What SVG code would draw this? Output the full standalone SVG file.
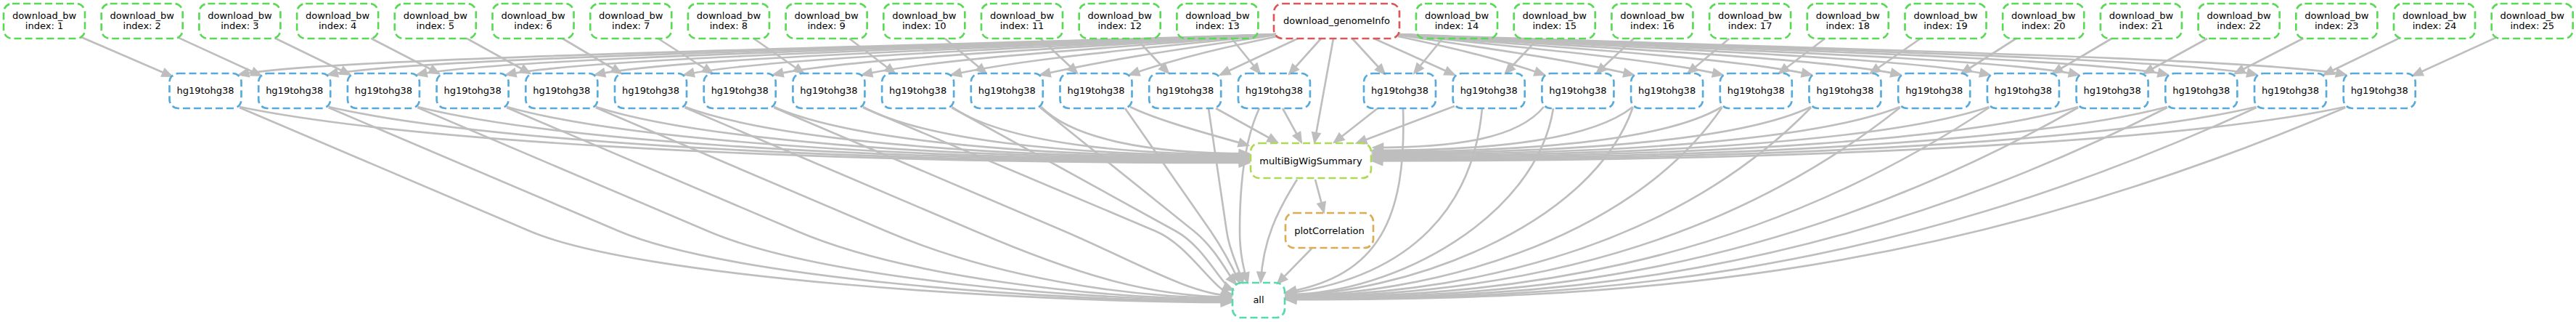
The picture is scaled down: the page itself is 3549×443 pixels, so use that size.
<svg xmlns="http://www.w3.org/2000/svg" width="3549" height="443" viewBox="0 0 3549 443">
<defs>
<style>
.n rect { fill: none; stroke-width: 2.67; stroke-dasharray: 10,5; }
.bw rect { stroke: #5ad957; }
.gi rect { stroke: #d95757; }
.hg rect { stroke: #57aad9; }
.mb rect { stroke: #afd957; }
.pc rect { stroke: #d9ad57; }
.al rect { stroke: #57d9aa; }
text { font-family: "DejaVu Sans", "Liberation Sans", sans-serif; font-size: 13px; fill: #000; text-anchor: middle; }
#edges path { fill: none; stroke: #bebebe; stroke-width: 2.67; marker-end: url(#ah); }
</style>
<marker id="ah" viewBox="-2 -2 20 18" refX="14" refY="7" markerWidth="20" markerHeight="18" markerUnits="userSpaceOnUse" orient="auto">
<path d="M1,2 L13,7 L1,12 Z" fill="#bebebe" stroke="#bebebe" stroke-width="2.67"/>
</marker>
</defs>
<rect x="0" y="0" width="3549" height="443" fill="#ffffff"/>
<g id="edges">
<!-- download_bw -> hg19tohg38 -->
<path d="M110.5,50.4 L237,105.1"/>
<path d="M244.7,51.4 L359.7,104"/>
<path d="M378.4,52.2 L482.4,102.7"/>
<path d="M511.1,52.7 L605.1,101.3"/>
<path d="M643.3,53 L730.3,101"/>
<path d="M775,53 L856,101"/>
<path d="M906.7,53 L981.7,101"/>
<path d="M1038.4,53 L1107.4,101"/>
<path d="M1170.1,53 L1233.1,101"/>
<path d="M1301.8,53 L1358.8,101"/>
<path d="M1433.5,53 L1484.5,101"/>
<path d="M1565.2,53 L1610.2,101"/>
<path d="M1696.9,53 L1735.9,101"/>
<path d="M1987.4,53 L1948.1,101"/>
<path d="M2119.1,53 L2073.8,101"/>
<path d="M2250.8,53 L2199.5,101"/>
<path d="M2382.5,53 L2325.2,101"/>
<path d="M2514.2,53 L2450.9,101"/>
<path d="M2645.9,53 L2576.6,101"/>
<path d="M2777.6,53 L2702.3,101"/>
<path d="M2909.3,53 L2828,101"/>
<path d="M3041,53 L2953.7,101"/>
<path d="M3173.3,52.7 L3078.8,101.3"/>
<path d="M3306,52.2 L3201.5,102.7"/>
<path d="M3439.7,51.4 L3324.2,104"/>
<!-- download_genomeInfo -> hg19tohg38 -->
<path d="M1758,47 C1329.3,63 439,78 329,103"/>
<path d="M1758,47 C1366.1,63 561.7,78 451.7,103"/>
<path d="M1758,47 C1402.9,63 684.4,78 574.4,103"/>
<path d="M1758,47 C1439.7,63 807.1,78 697.1,103"/>
<path d="M1758,47 C1476.5,63 929.8,78 819.8,103"/>
<path d="M1758,47 C1513.4,63 1052.5,78 942.5,103"/>
<path d="M1758,47 C1550.2,63 1175.2,78 1065.2,103"/>
<path d="M1758,47 C1587,63 1297.9,78 1187.9,103"/>
<path d="M1758,47 C1623.8,63 1420.6,78 1310.6,103"/>
<path d="M1758,48 C1660.6,63 1543.3,78 1433.3,103"/>
<path d="M1760,50 C1697.4,63 1626.7,78 1556,103"/>
<path d="M1788,53 L1681,103"/>
<path d="M1820,53 L1776,102"/>
<path d="M1863,53 L1908,102"/>
<path d="M1893,53 L2004,103"/>
<path d="M1926,50 C1986.6,63 2057.2,78 2127.9,103"/>
<path d="M1926,48 C2023.4,63 2140.6,78 2250.6,103"/>
<path d="M1926,47 C2060.2,63 2263.3,78 2373.3,103"/>
<path d="M1926,47 C2097,63 2386,78 2496,103"/>
<path d="M1926,47 C2133.8,63 2508.7,78 2618.7,103"/>
<path d="M1926,47 C2170.6,63 2631.4,78 2741.4,103"/>
<path d="M1926,47 C2207.4,63 2754.1,78 2864.1,103"/>
<path d="M1926,47 C2244.2,63 2876.8,78 2986.8,103"/>
<path d="M1926,47 C2281.1,63 2999.5,78 3109.5,103"/>
<path d="M1926,47 C2317.9,63 3122.2,78 3232.2,103"/>
<!-- download_genomeInfo -> multiBigWigSummary -->
<path d="M1837,53 L1811,196"/>
<!-- hg19tohg38 -> multiBigWigSummary -->
<path d="M330,147 C538.7,190 1025.5,224 1721,224"/>
<path d="M452.7,147 C642.9,190 1086.9,222.6 1721,222.6"/>
<path d="M575.4,147 C747.2,190 1148.2,221.2 1721,221.2"/>
<path d="M698.1,147 C851.5,190 1209.6,219.8 1721,219.8"/>
<path d="M820.8,147 C955.8,190 1270.9,218.4 1721,218.4"/>
<path d="M943.5,147 C1060.1,190 1332.3,217 1721,217"/>
<path d="M1066.2,147 C1164.4,190 1393.6,215.6 1721,215.6"/>
<path d="M1188.9,147 C1268.7,190 1455,214.2 1721,214.2"/>
<path d="M1311.6,147 C1373,190 1516.3,212.8 1721,212.8"/>
<path d="M1434.3,147 C1477.3,190 1577.7,211.4 1721,211.4"/>
<path d="M1557,147 C1600,168 1680,188 1720,200"/>
<path d="M1675,149 L1760,196"/>
<path d="M1767,149 L1793,196"/>
<path d="M1898,149 L1838,196"/>
<path d="M2004,146 L1869,197"/>
<path d="M2126.9,147 C2091.5,190 2009,203 1892,203"/>
<path d="M2249.6,147 C2195.8,190 2070.3,207 1891,207"/>
<path d="M2372.3,147 C2300.1,190 2131.7,208.8 1891,208.8"/>
<path d="M2495,147 C2404.4,190 2193,210.6 1891,210.6"/>
<path d="M2617.7,147 C2508.7,190 2254.4,212.4 1891,212.4"/>
<path d="M2740.4,147 C2613,190 2315.7,214.2 1891,214.2"/>
<path d="M2863.1,147 C2717.3,190 2377.1,216 1891,216"/>
<path d="M2985.8,147 C2821.6,190 2438.4,217.8 1891,217.8"/>
<path d="M3108.5,147 C2925.9,190 2499.8,219.6 1891,219.6"/>
<path d="M3231.2,147 C3030.2,190 2561.1,221.4 1891,221.4"/>
<!-- hg19tohg38 -> all -->
<path d="M330,148 L730,318 C880,382 1406.2,416 1696,416"/>
<path d="M452.7,148 L852.7,318 C1002.7,382 1443,414.5 1696,414.5"/>
<path d="M575.4,148 L975.4,318 C1125.4,382 1479.8,413 1696,413"/>
<path d="M698.1,148 L1098.1,318 C1248.1,382 1516.6,411.5 1696,411.5"/>
<path d="M820.8,148 L1220.8,318 C1370.8,382 1553.4,410 1696,410"/>
<path d="M943.5,148 L1343.5,318 C1493.5,382 1590.2,408.5 1696,408.5"/>
<path d="M1066.2,148 L1466.2,318 C1566,361 1640,405 1697,407"/>
<path d="M1189,148 L1592,318 C1638,337 1672,400 1697,405"/>
<path d="M1311,148 L1620,318 C1660,340 1682,392 1699,399"/>
<path d="M1433,148 L1645,318 C1675,342 1692,378 1703,391"/>
<path d="M1550,149 L1668,318 C1685,343 1700,372 1708,389"/>
<path d="M1665,149 L1690,318 C1694,348 1708,370 1712,389"/>
<path d="M1735,149 C1718,185 1708,240 1708,318 C1708,350 1714,372 1719,389"/>
<path d="M1933,149 C1938,300 1900,380 1772,402"/>
<path d="M2042,149 C2030,280 1950,380 1772,404"/>
<path d="M2140,149 C2116.9,298 1922,405 1772,405"/>
<path d="M2249.6,148 C2189.6,318 1922,405.8 1772,405.8"/>
<path d="M2372.3,148 C2242.3,338 1952,406.6 1772,406.6"/>
<path d="M2495,148 C2295,353 1989,407.4 1772,407.4"/>
<path d="M2617.7,148 C2347.7,363 2026,408.2 1772,408.2"/>
<path d="M2740.4,148 C2400.4,373 2062,409 1772,409"/>
<path d="M2863.1,148 C2453.1,380 2099,409.8 1772,409.8"/>
<path d="M2985.8,148 C2515.8,385 2136,410.6 1772,410.6"/>
<path d="M3108.5,148 C2583.5,389 2173,411.4 1772,411.4"/>
<path d="M3231.2,148 C2657.2,392 2210,412.2 1772,412.2"/>
<!-- multiBigWigSummary -> plotCorrelation, all; plotCorrelation -> all -->
<path d="M1812,247 L1824,292"/>
<path d="M1787,247 C1760,290 1740,330 1737,388"/>
<path d="M1807,342 L1760,390"/>
</g>
<g id="n_bw1" class="n bw"><rect x="5" y="5" width="112" height="48" rx="12"/><text x="61" y="25.5">download_bw</text><text x="61" y="39.5">index: 1</text></g>
<g id="n_bw2" class="n bw"><rect x="139.7" y="5" width="112" height="48" rx="12"/><text x="195.7" y="25.5">download_bw</text><text x="195.7" y="39.5">index: 2</text></g>
<g id="n_bw3" class="n bw"><rect x="274.4" y="5" width="112" height="48" rx="12"/><text x="330.4" y="25.5">download_bw</text><text x="330.4" y="39.5">index: 3</text></g>
<g id="n_bw4" class="n bw"><rect x="409.1" y="5" width="112" height="48" rx="12"/><text x="465.1" y="25.5">download_bw</text><text x="465.1" y="39.5">index: 4</text></g>
<g id="n_bw5" class="n bw"><rect x="543.8" y="5" width="112" height="48" rx="12"/><text x="599.8" y="25.5">download_bw</text><text x="599.8" y="39.5">index: 5</text></g>
<g id="n_bw6" class="n bw"><rect x="678.5" y="5" width="112" height="48" rx="12"/><text x="734.5" y="25.5">download_bw</text><text x="734.5" y="39.5">index: 6</text></g>
<g id="n_bw7" class="n bw"><rect x="813.2" y="5" width="112" height="48" rx="12"/><text x="869.2" y="25.5">download_bw</text><text x="869.2" y="39.5">index: 7</text></g>
<g id="n_bw8" class="n bw"><rect x="947.9" y="5" width="112" height="48" rx="12"/><text x="1003.9" y="25.5">download_bw</text><text x="1003.9" y="39.5">index: 8</text></g>
<g id="n_bw9" class="n bw"><rect x="1082.6" y="5" width="112" height="48" rx="12"/><text x="1138.6" y="25.5">download_bw</text><text x="1138.6" y="39.5">index: 9</text></g>
<g id="n_bw10" class="n bw"><rect x="1217.3" y="5" width="112" height="48" rx="12"/><text x="1273.3" y="25.5">download_bw</text><text x="1273.3" y="39.5">index: 10</text></g>
<g id="n_bw11" class="n bw"><rect x="1352" y="5" width="112" height="48" rx="12"/><text x="1408" y="25.5">download_bw</text><text x="1408" y="39.5">index: 11</text></g>
<g id="n_bw12" class="n bw"><rect x="1486.7" y="5" width="112" height="48" rx="12"/><text x="1542.7" y="25.5">download_bw</text><text x="1542.7" y="39.5">index: 12</text></g>
<g id="n_bw13" class="n bw"><rect x="1621.4" y="5" width="112" height="48" rx="12"/><text x="1677.4" y="25.5">download_bw</text><text x="1677.4" y="39.5">index: 13</text></g>
<g id="n_genomeInfo" class="n gi"><rect x="1755" y="5" width="173" height="48" rx="12"/><text x="1841.5" y="33">download_genomeInfo</text></g>
<g id="n_bw14" class="n bw"><rect x="1951" y="5" width="112" height="48" rx="12"/><text x="2007" y="25.5">download_bw</text><text x="2007" y="39.5">index: 14</text></g>
<g id="n_bw15" class="n bw"><rect x="2085.7" y="5" width="112" height="48" rx="12"/><text x="2141.7" y="25.5">download_bw</text><text x="2141.7" y="39.5">index: 15</text></g>
<g id="n_bw16" class="n bw"><rect x="2220.4" y="5" width="112" height="48" rx="12"/><text x="2276.4" y="25.5">download_bw</text><text x="2276.4" y="39.5">index: 16</text></g>
<g id="n_bw17" class="n bw"><rect x="2355.1" y="5" width="112" height="48" rx="12"/><text x="2411.1" y="25.5">download_bw</text><text x="2411.1" y="39.5">index: 17</text></g>
<g id="n_bw18" class="n bw"><rect x="2489.8" y="5" width="112" height="48" rx="12"/><text x="2545.8" y="25.5">download_bw</text><text x="2545.8" y="39.5">index: 18</text></g>
<g id="n_bw19" class="n bw"><rect x="2624.5" y="5" width="112" height="48" rx="12"/><text x="2680.5" y="25.5">download_bw</text><text x="2680.5" y="39.5">index: 19</text></g>
<g id="n_bw20" class="n bw"><rect x="2759.2" y="5" width="112" height="48" rx="12"/><text x="2815.2" y="25.5">download_bw</text><text x="2815.2" y="39.5">index: 20</text></g>
<g id="n_bw21" class="n bw"><rect x="2893.9" y="5" width="112" height="48" rx="12"/><text x="2949.9" y="25.5">download_bw</text><text x="2949.9" y="39.5">index: 21</text></g>
<g id="n_bw22" class="n bw"><rect x="3028.6" y="5" width="112" height="48" rx="12"/><text x="3084.6" y="25.5">download_bw</text><text x="3084.6" y="39.5">index: 22</text></g>
<g id="n_bw23" class="n bw"><rect x="3163.3" y="5" width="112" height="48" rx="12"/><text x="3219.3" y="25.5">download_bw</text><text x="3219.3" y="39.5">index: 23</text></g>
<g id="n_bw24" class="n bw"><rect x="3298" y="5" width="112" height="48" rx="12"/><text x="3354" y="25.5">download_bw</text><text x="3354" y="39.5">index: 24</text></g>
<g id="n_bw25" class="n bw"><rect x="3432.7" y="5" width="112" height="48" rx="12"/><text x="3488.7" y="25.5">download_bw</text><text x="3488.7" y="39.5">index: 25</text></g>
<g id="n_hg1" class="n hg"><rect x="233.5" y="101" width="99" height="48" rx="12"/><text x="283" y="129">hg19tohg38</text></g>
<g id="n_hg2" class="n hg"><rect x="356.2" y="101" width="99" height="48" rx="12"/><text x="405.7" y="129">hg19tohg38</text></g>
<g id="n_hg3" class="n hg"><rect x="478.9" y="101" width="99" height="48" rx="12"/><text x="528.4" y="129">hg19tohg38</text></g>
<g id="n_hg4" class="n hg"><rect x="601.6" y="101" width="99" height="48" rx="12"/><text x="651.1" y="129">hg19tohg38</text></g>
<g id="n_hg5" class="n hg"><rect x="724.3" y="101" width="99" height="48" rx="12"/><text x="773.8" y="129">hg19tohg38</text></g>
<g id="n_hg6" class="n hg"><rect x="847" y="101" width="99" height="48" rx="12"/><text x="896.5" y="129">hg19tohg38</text></g>
<g id="n_hg7" class="n hg"><rect x="969.7" y="101" width="99" height="48" rx="12"/><text x="1019.2" y="129">hg19tohg38</text></g>
<g id="n_hg8" class="n hg"><rect x="1092.4" y="101" width="99" height="48" rx="12"/><text x="1141.9" y="129">hg19tohg38</text></g>
<g id="n_hg9" class="n hg"><rect x="1215.1" y="101" width="99" height="48" rx="12"/><text x="1264.6" y="129">hg19tohg38</text></g>
<g id="n_hg10" class="n hg"><rect x="1337.8" y="101" width="99" height="48" rx="12"/><text x="1387.3" y="129">hg19tohg38</text></g>
<g id="n_hg11" class="n hg"><rect x="1460.5" y="101" width="99" height="48" rx="12"/><text x="1510" y="129">hg19tohg38</text></g>
<g id="n_hg12" class="n hg"><rect x="1583.2" y="101" width="99" height="48" rx="12"/><text x="1632.7" y="129">hg19tohg38</text></g>
<g id="n_hg13" class="n hg"><rect x="1705.9" y="101" width="99" height="48" rx="12"/><text x="1755.4" y="129">hg19tohg38</text></g>
<g id="n_hg14" class="n hg"><rect x="1879" y="101" width="99" height="48" rx="12"/><text x="1928.5" y="129">hg19tohg38</text></g>
<g id="n_hg15" class="n hg"><rect x="2001.7" y="101" width="99" height="48" rx="12"/><text x="2051.2" y="129">hg19tohg38</text></g>
<g id="n_hg16" class="n hg"><rect x="2124.4" y="101" width="99" height="48" rx="12"/><text x="2173.9" y="129">hg19tohg38</text></g>
<g id="n_hg17" class="n hg"><rect x="2247.1" y="101" width="99" height="48" rx="12"/><text x="2296.6" y="129">hg19tohg38</text></g>
<g id="n_hg18" class="n hg"><rect x="2369.8" y="101" width="99" height="48" rx="12"/><text x="2419.3" y="129">hg19tohg38</text></g>
<g id="n_hg19" class="n hg"><rect x="2492.5" y="101" width="99" height="48" rx="12"/><text x="2542" y="129">hg19tohg38</text></g>
<g id="n_hg20" class="n hg"><rect x="2615.2" y="101" width="99" height="48" rx="12"/><text x="2664.7" y="129">hg19tohg38</text></g>
<g id="n_hg21" class="n hg"><rect x="2737.9" y="101" width="99" height="48" rx="12"/><text x="2787.4" y="129">hg19tohg38</text></g>
<g id="n_hg22" class="n hg"><rect x="2860.6" y="101" width="99" height="48" rx="12"/><text x="2910.1" y="129">hg19tohg38</text></g>
<g id="n_hg23" class="n hg"><rect x="2983.3" y="101" width="99" height="48" rx="12"/><text x="3032.8" y="129">hg19tohg38</text></g>
<g id="n_hg24" class="n hg"><rect x="3106" y="101" width="99" height="48" rx="12"/><text x="3155.5" y="129">hg19tohg38</text></g>
<g id="n_hg25" class="n hg"><rect x="3228.7" y="101" width="99" height="48" rx="12"/><text x="3278.2" y="129">hg19tohg38</text></g>
<g id="n_multi" class="n mb"><rect x="1723" y="197" width="166" height="48" rx="12"/><text x="1806" y="225.5">multiBigWigSummary</text></g>
<g id="n_plot" class="n pc"><rect x="1771" y="293" width="121" height="48" rx="12"/><text x="1831.5" y="321.5">plotCorrelation</text></g>
<g id="n_all" class="n al"><rect x="1698" y="389" width="72" height="48" rx="12"/><text x="1734" y="417">all</text></g>
</svg>
